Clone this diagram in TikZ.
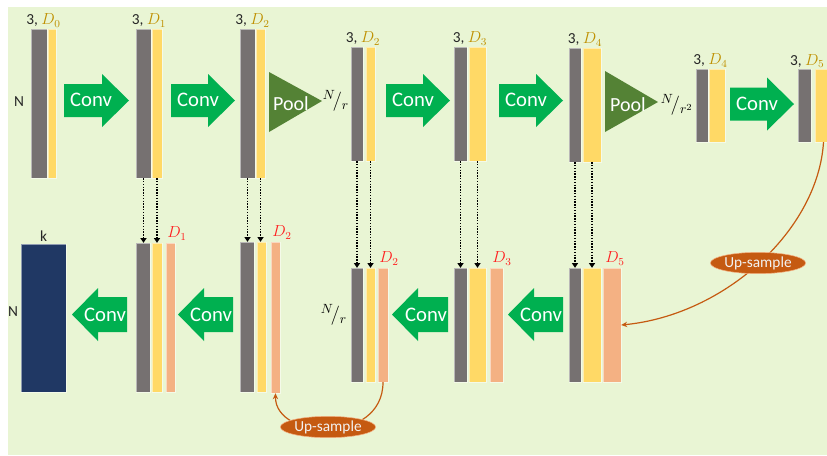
\documentclass[tikz,border=0pt]{standalone}
\usepackage{fontspec}
\setmainfont{Carlito}
\usetikzlibrary{arrows.meta,fit,calc,shapes.geometric}

\definecolor{bgcol}{HTML}{E9F5D4}
\definecolor{barGray}{HTML}{767171}
\definecolor{barYellow}{HTML}{FFD966}
\definecolor{barSalmon}{HTML}{F4B183}
\definecolor{convGreen}{HTML}{00B050}
\definecolor{poolGreen}{HTML}{548235}
\definecolor{outNavy}{HTML}{203864}
\definecolor{upOrange}{HTML}{C55A11}
\definecolor{goldD}{HTML}{BF9000}
\definecolor{redD}{HTML}{FF2020}
\definecolor{txtDark}{HTML}{262626}

\tikzset{
  barbase/.style={rectangle, inner sep=0pt, draw=white, draw opacity=0.5, line width=0.3pt},
  grybar/.style={barbase, fill=barGray},
  ylwbar/.style={barbase, fill=barYellow},
  slmbar/.style={barbase, fill=barSalmon},
  navybar/.style={barbase, fill=outNavy},
  convfill/.style={fill=convGreen},
  poolfill/.style={fill=poolGreen},
  convtxt/.style={text=white, inner sep=0pt, font=\fontsize{15.5}{18}\selectfont},
  pooltxt/.style={text=white, inner sep=0pt, font=\fontsize{15}{18}\selectfont},
  toplab/.style={anchor=south, inner sep=1pt, text=txtDark, font=\fontsize{11.5}{13}\selectfont},
  redlab/.style={anchor=south west, inner sep=1pt, text=redD, font=\fontsize{11.5}{13}\selectfont},
  sidelab/.style={inner sep=0pt, text=txtDark, font=\fontsize{11.5}{13}\selectfont},
  fraclab/.style={inner sep=0pt, text=black, font=\fontsize{14}{16}\selectfont},
  skip/.style={black, line width=1.3pt, dash pattern=on 1.1pt off 1pt,
    -{Triangle[length=3.5pt,width=4.5pt]}},
  upline/.style={upOrange, line width=0.9pt, -{Stealth[length=4.5pt,width=4pt]}},
  upsmp/.style={ellipse, fill=upOrange, draw=barSalmon, line width=0.4pt, inner sep=0pt,
    minimum width=61pt, minimum height=16pt, text=white!95!black,
    font=\fontsize{11.5}{13}\selectfont},
}

% a bar between two corners: style, name, x0, y0, x1, y1
\newcommand\colbar[6]{\node[#1, fit={(#3,#4) (#5,#6)}] (#2) {};}
% right-pointing Conv arrow: name, left x, tip x, centre y
\newcommand\rconv[4]{%
  \fill[convfill] (#2,#4-16.5) -- (#3-27,#4-16.5) -- (#3-27,#4-26.5) -- (#3,#4)
     -- (#3-27,#4+26.5) -- (#3-27,#4+16.5) -- (#2,#4+16.5) -- cycle;
  \node[convtxt] (#1) at (#2+27,#4-0.5) {Conv};}
% left-pointing Conv arrow: name, tip x, right x, centre y
\newcommand\lconv[4]{%
  \fill[convfill] (#3,#4-17.5) -- (#2+26,#4-17.5) -- (#2+26,#4-26.5) -- (#2,#4)
     -- (#2+26,#4+26.5) -- (#2+26,#4+17.5) -- (#3,#4+17.5) -- cycle;
  \node[convtxt] (#1) at (#3-22,#4) {Conv};}

\begin{document}
\begin{tikzpicture}[x=0.75pt,y=-0.75pt]
\useasboundingbox (0,0) rectangle (827,455);
\clip (0,0) rectangle (827,455);
\fill[bgcol] (8,7) rectangle (827,455);

% ---------- encoder (top row) ----------
\colbar{grybar}{g0}{31}{29}{47}{178}
\colbar{ylwbar}{y0}{48}{29}{56}{178}
\colbar{grybar}{g1}{136}{29}{151}{178}
\colbar{ylwbar}{y1}{152}{29}{162}{178}
\colbar{grybar}{g2}{240}{29}{255}{178}
\colbar{ylwbar}{y2}{256}{29}{265}{178}
\colbar{grybar}{g3}{351}{47}{363}{161}
\colbar{ylwbar}{y3}{366}{47}{375}{161}
\colbar{grybar}{g4}{454}{47}{467}{161}
\colbar{ylwbar}{y4}{469}{47}{486}{161}
\colbar{grybar}{g5}{569}{48}{581}{162}
\colbar{ylwbar}{y5}{583}{48}{601}{162}
\colbar{grybar}{g6}{696}{69}{708}{142}
\colbar{ylwbar}{y6}{709}{69}{725}{142}
\colbar{grybar}{g7}{798}{69}{811}{142}
\colbar{ylwbar}{y7}{815}{69}{832}{142}

\node[toplab] (t0) at ($(g0.north west)!.5!(y0.north east)$) {3, \textcolor{goldD}{$D_0$}};
\node[toplab] (t1) at ($(g1.north west)!.5!(y1.north east)$) {3, \textcolor{goldD}{$D_1$}};
\node[toplab] (t2) at ($(g2.north west)!.5!(y2.north east)$) {3, \textcolor{goldD}{$D_2$}};
\node[toplab] (t3) at ($(g3.north west)!.5!(y3.north east)$) {3, \textcolor{goldD}{$D_2$}};
\node[toplab] (t4) at ($(g4.north west)!.5!(y4.north east)$) {3, \textcolor{goldD}{$D_3$}};
\node[toplab] (t5) at ($(g5.north west)!.5!(y5.north east)$) {3, \textcolor{goldD}{$D_4$}};
\node[toplab] (t6) at ($(g6.north west)!.5!(y6.north east)$) {3, \textcolor{goldD}{$D_4$}};
\node[toplab, anchor=south east] (t7) at (826,69) {3, \textcolor{goldD}{$D_5$}};

\node[sidelab] (n0) at (19,102) {N};

\rconv{c1}{64}{129}{100.5}
\rconv{c2}{171}{235}{100.5}
\rconv{c3}{386}{450}{100.5}
\rconv{c4}{499}{563}{100.5}
\rconv{c5}{730}{794}{104}

% pooling stages
\fill[poolfill] (269,72) -- (322,101) -- (269,132) -- cycle;
\node[pooltxt] (p1) at (291,104) {Pool};
\fill[poolfill] (605,71) -- (658,102) -- (605,132) -- cycle;
\node[pooltxt] (p2) at (628,105) {Pool};

\node[fraclab] (nr1) at (336,101) {${}^{N}\!/_{r}$};
\node[fraclab] (nr2) at (677,105) {${}^{N}\!/_{r^2}$};

% ---------- decoder (bottom row) ----------
\colbar{navybar}{out}{21}{244}{66}{392}
\node[sidelab, anchor=south] (k0) at ($(out.north)+(0,-2)$) {k};
\node[sidelab] (n1) at (13,312) {N};

\colbar{grybar}{bg1}{136}{243}{150}{392}
\colbar{ylwbar}{by1}{152}{243}{162}{392}
\colbar{slmbar}{s1}{166}{243}{175}{392}
\colbar{grybar}{bg2}{240}{242}{254}{392}
\colbar{ylwbar}{by2}{257}{242}{266}{392}
\colbar{slmbar}{s2}{271}{242}{280}{393}
\colbar{grybar}{bg3}{351}{268}{363}{382}
\colbar{ylwbar}{by3}{366}{268}{375}{382}
\colbar{slmbar}{s3}{378}{268}{388}{382}
\colbar{grybar}{bg4}{454}{268}{467}{382}
\colbar{ylwbar}{by4}{469}{268}{486}{382}
\colbar{slmbar}{s4}{490}{268}{503}{382}
\colbar{grybar}{bg5}{569}{268}{581}{382}
\colbar{ylwbar}{by5}{583}{268}{601}{382}
\colbar{slmbar}{s5}{603}{268}{621}{382}

\node[redlab] (d1) at ($(s1.north west)+(0,-1)$) {$D_1$};
\node[redlab] (d2) at ($(s2.north west)+(0,-1)$) {$D_2$};
\node[redlab] (d3) at ($(s3.north west)+(0,-1)$) {$D_2$};
\node[redlab] (d4) at ($(s4.north west)+(1,-1)$) {$D_3$};
\node[redlab] (d5) at ($(s5.north west)+(1,-1)$) {$D_5$};

\node[fraclab] (nr3) at (334,315) {${}^{N}\!/_{r}$};

\lconv{c6}{72}{127}{314.5}
\lconv{c7}{178}{233}{314.5}
\lconv{c8}{392}{448}{314.5}
\lconv{c9}{508}{563}{314.5}

% ---------- skip connections ----------
\foreach \i in {1,...,5}{
  \draw[skip] (g\i.south) -- (g\i.south |- bg\i.north);
  \draw[skip] (y\i.south) -- (y\i.south |- by\i.north);
}

% ---------- up-sampling ----------
\draw[upline] (y7.south) .. controls (818,230) and (725,315) .. (s5.east);
\node[upsmp] (u1) at (758,263) {Up-sample};
\draw[upline] (s3.south) .. controls (383,445) and (275,440) .. (s2.south);
\node[upsmp] (u2) at (328,427) {Up-sample};
\end{tikzpicture}
\end{document}
